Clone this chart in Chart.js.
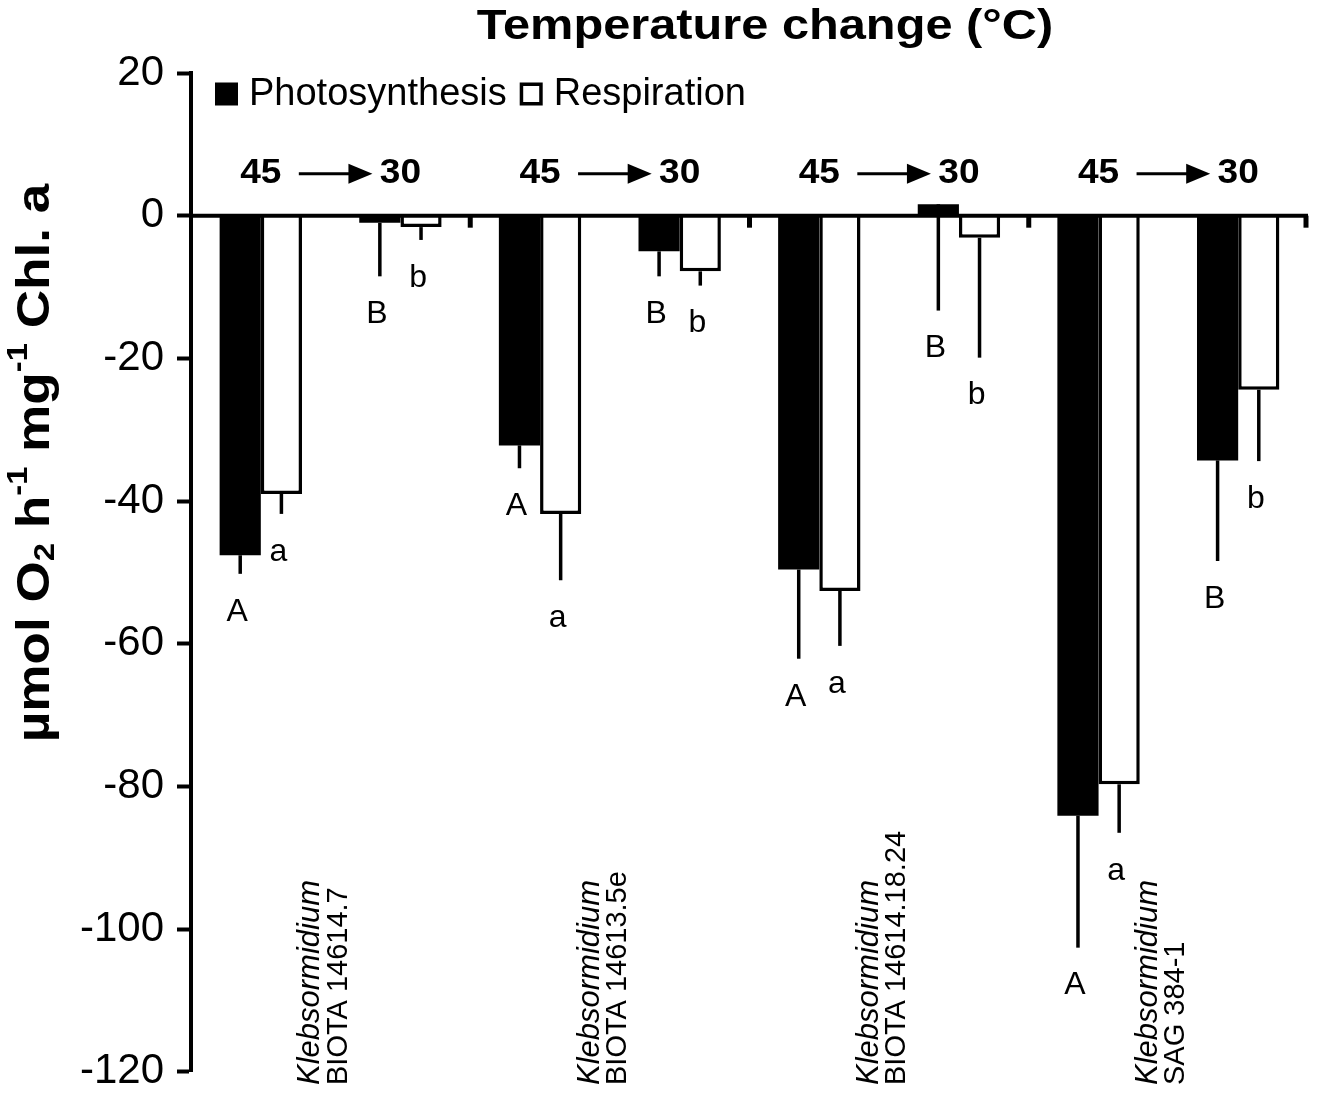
<!DOCTYPE html>
<html>
<head>
<meta charset="utf-8">
<title>O2 exchange after temperature change</title>
<script src="https://cdn.jsdelivr.net/npm/chart.js@4.4.7/dist/chart.umd.min.js"></script>
<style>
  html, body { margin: 0; padding: 0; background: #fff; }
  #wrap { width: 1317px; height: 1110px; }
</style>
</head>
<body>
<div id="wrap"><canvas id="o2Chart" width="1317" height="1110"></canvas></div>
<script>
// two bars per temperature step, two steps (45 -> 30) per strain
const categories = ['45', '30', '45', '30', '45', '30', '45', '30'];
const strains = [
  ['Klebsormidium', 'BIOTA 14614.7'],
  ['Klebsormidium', 'BIOTA 14613.5e'],
  ['Klebsormidium', 'BIOTA 14614.18.24'],
  ['Klebsormidium', 'SAG 384-1'],
];
const photosynthesis    = [-47.6, -1.0, -32.2, -5.0, -49.6,  1.6, -84.1, -34.3];
const photosynthesisErr = [  2.6,  7.5,   3.2,  3.5,  12.5, 14.9,  18.5,  14.1];
const respiration       = [-39.0, -1.6, -41.8, -7.8, -52.6, -3.1, -79.7, -24.4];
const respirationErr    = [  2.8,  1.8,   9.3,  2.0,   7.7, 16.8,   6.8,  10.0];
const photosynthesisLetters = ['A', 'B', 'A', 'B', 'A', 'B', 'A', 'B'];
const respirationLetters    = ['a', 'b', 'a', 'b', 'a', 'b', 'a', 'b'];
const yMin = -120, yMax = 20, yStep = 20;

const FONT = '"Liberation Sans", Arial, Helvetica, sans-serif';
Chart.defaults.font.family = FONT;
Chart.defaults.color = '#000';

const letters = [photosynthesisLetters, respirationLetters];
const errors = [photosynthesisErr, respirationErr];

// error bars (minus side only) and significance letters under them
const errorBarPlugin = {
  id: 'errorBars',
  afterDatasetsDraw(chart) {
    const { ctx, scales: { y } } = chart;
    ctx.save();
    ctx.strokeStyle = '#000';
    ctx.lineWidth = 3.5;
    ctx.fillStyle = '#000';
    ctx.font = `32px ${FONT}`;
    ctx.textAlign = 'center';
    ctx.textBaseline = 'middle';
    chart.data.datasets.forEach((ds, i) => {
      const meta = chart.getDatasetMeta(i);
      meta.data.forEach((bar, j) => {
        const v = ds.data[j];
        const lo = v - errors[i][j];
        const y1 = y.getPixelForValue(v);
        const y2 = y.getPixelForValue(lo);
        ctx.beginPath();
        ctx.moveTo(bar.x, y1);
        ctx.lineTo(bar.x, y2);
        ctx.stroke();
        ctx.fillText(letters[i][j], bar.x - 3, y2 + 38);
      });
    });
    ctx.restore();
  }
};

// horizontal axis at zero with ticks between strains
const zeroAxisPlugin = {
  id: 'zeroAxis',
  afterDatasetsDraw(chart) {
    const { ctx, chartArea, scales: { x, y } } = chart;
    const y0 = y.getPixelForValue(0);
    ctx.save();
    ctx.strokeStyle = '#000';
    ctx.lineWidth = 4;
    ctx.beginPath();
    ctx.moveTo(chartArea.left, y0);
    ctx.lineTo(chartArea.right, y0);
    ctx.stroke();
    ctx.lineWidth = 5;
    for (let g = 0; g < strains.length; g++) {
      const bx = g < strains.length - 1
        ? (x.getPixelForValue(2 * g + 1) + x.getPixelForValue(2 * g + 2)) / 2
        : chartArea.right - 2;
      ctx.beginPath();
      ctx.moveTo(bx, y0);
      ctx.lineTo(bx, y0 + 12);
      ctx.stroke();
    }
    ctx.restore();
  }
};

function drawRich(ctx, parts, size) {
  const fontFor = p => `bold ${p.s ? Math.round(size * 0.62) : size}px ${FONT}`;
  const widths = parts.map(p => { ctx.font = fontFor(p); return ctx.measureText(p.t).width; });
  let cx = -widths.reduce((a, b) => a + b, 0) / 2;
  parts.forEach((p, k) => {
    ctx.font = fontFor(p);
    const dy = p.s === 'sub' ? size * 0.22 : p.s === 'sup' ? -size * 0.36 : 0;
    ctx.fillText(p.t, cx, dy);
    cx += widths[k];
  });
}

// text drawn a little wider than the font's natural width
function wideText(ctx, text, x, y, sx) {
  ctx.save();
  ctx.translate(x, y);
  ctx.scale(sx, 1);
  ctx.fillText(text, 0, 0);
  ctx.restore();
}

// legend, title, temperature step arrows, strain names, axis title
const labelsPlugin = {
  id: 'labels',
  afterDraw(chart) {
    const { ctx, scales: { x, y } } = chart;
    const y0 = y.getPixelForValue(0);
    ctx.save();
    ctx.fillStyle = '#000';
    ctx.strokeStyle = '#000';
    ctx.textBaseline = 'middle';

    // legend
    ctx.font = `38px ${FONT}`;
    ctx.textAlign = 'left';
    let lx = 215;
    const ly = 94, box = 23;
    chart.data.datasets.forEach(ds => {
      ctx.fillStyle = ds.backgroundColor;
      ctx.fillRect(lx, ly - box / 2, box, box);
      if (ds.borderWidth) {
        ctx.lineWidth = 3.5;
        ctx.strokeRect(lx + 1.75, ly - box / 2 + 1.75, box - 3.5, box - 3.5);
      }
      ctx.fillStyle = '#000';
      ctx.fillText(ds.label, lx + box + 11, ly + 1);
      lx += box + 11 + ctx.measureText(ds.label).width + 13;
    });

    ctx.textAlign = 'center';
    ctx.font = `bold 42px ${FONT}`;
    wideText(ctx, 'Temperature change (°C)', 765, 27, 1.16);

    ctx.font = `bold 35px ${FONT}`;
    for (let g = 0; g < strains.length; g++) {
      const xa = x.getPixelForValue(2 * g);
      const xb = x.getPixelForValue(2 * g + 1);
      const ty = y0 - 42;
      wideText(ctx, categories[2 * g], xa, ty, 1.06);
      wideText(ctx, categories[2 * g + 1], xb, ty, 1.06);
      const tip = xb - 28;
      ctx.lineWidth = 3;
      ctx.beginPath();
      ctx.moveTo(xa + 38, ty);
      ctx.lineTo(tip - 20, ty);
      ctx.stroke();
      ctx.beginPath();
      ctx.moveTo(tip, ty);
      ctx.lineTo(tip - 24, ty - 10);
      ctx.lineTo(tip - 24, ty + 10);
      ctx.closePath();
      ctx.fill();
    }

    ctx.textAlign = 'left';
    for (let g = 0; g < strains.length; g++) {
      const cx = (x.getPixelForValue(2 * g) + x.getPixelForValue(2 * g + 1)) / 2 - 6;
      ctx.save();
      ctx.translate(cx, 1085);
      ctx.rotate(-Math.PI / 2);
      ctx.font = `italic 31px ${FONT}`;
      ctx.fillText(strains[g][0], 0, -14);
      ctx.font = `29px ${FONT}`;
      ctx.fillText(strains[g][1], 0, 14);
      ctx.restore();
    }

    ctx.save();
    ctx.translate(36, 463);
    ctx.rotate(-Math.PI / 2);
    ctx.scale(1.13, 1);
    ctx.textAlign = 'left';
    drawRich(ctx, [
      { t: 'µmol O' }, { t: '2', s: 'sub' }, { t: ' h' }, { t: '-1', s: 'sup' },
      { t: ' mg' }, { t: '-1', s: 'sup' }, { t: ' Chl. a' }
    ], 47);
    ctx.restore();

    ctx.restore();
  }
};

new Chart(document.getElementById('o2Chart'), {
  type: 'bar',
  data: {
    labels: categories,
    datasets: [
      {
        label: 'Photosynthesis',
        data: photosynthesis,
        backgroundColor: '#000',
        borderColor: '#000',
        borderWidth: 0,
        categoryPercentage: 0.59,
        barPercentage: 1.0,
      },
      {
        label: 'Respiration',
        data: respiration,
        backgroundColor: '#fff',
        borderColor: '#000',
        borderWidth: 3.5,
        categoryPercentage: 0.59,
        barPercentage: 1.0,
      },
    ],
  },
  options: {
    responsive: false,
    animation: false,
    layout: { padding: { left: 0, right: 9, top: 73, bottom: 28 } },
    plugins: {
      title: { display: false },
      tooltip: { enabled: false },
      legend: { display: false },
    },
    scales: {
      x: {
        type: 'category',
        display: false,
      },
      y: {
        min: yMin,
        max: yMax,
        afterFit(scale) { scale.width = 191; },
        ticks: {
          stepSize: yStep,
          font: { size: 42 },
          color: '#000',
          padding: 13,
        },
        grid: {
          drawOnChartArea: false,
          drawTicks: true,
          tickLength: 14,
          tickWidth: 4,
          tickColor: '#000',
        },
        border: { display: true, color: '#000', width: 4 },
      },
    },
  },
  plugins: [errorBarPlugin, zeroAxisPlugin, labelsPlugin],
});
</script>
</body>
</html>
